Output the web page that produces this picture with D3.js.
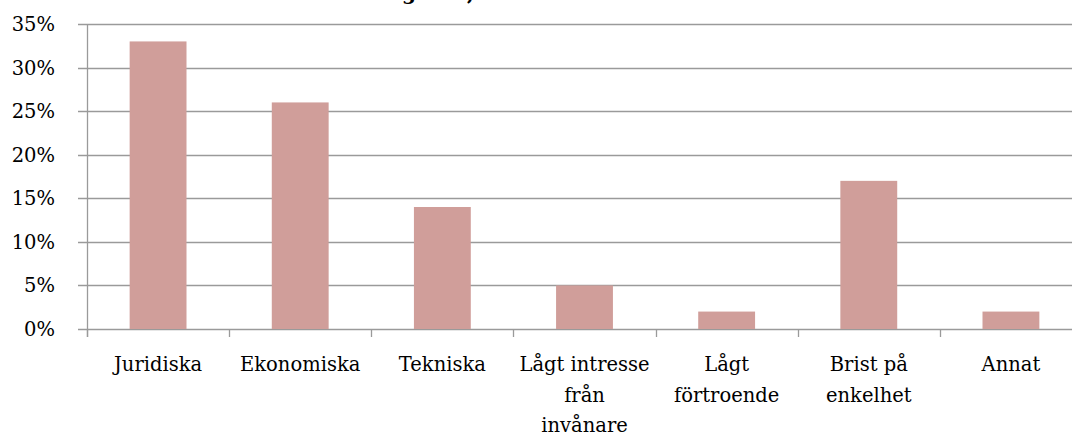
<!DOCTYPE html>
<html><head><meta charset="utf-8">
<script src="https://cdn.jsdelivr.net/npm/d3@7"></script>
<style>body{margin:0;background:#fff}svg{display:block}text{font-family:"DejaVu Serif",serif;fill:#000}</style>
</head><body>
<svg id="c" width="1072" height="436"></svg>
<script>
const categories = ["Juridiska","Ekonomiska","Tekniska","Lågt intresse från invånare","Lågt förtroende","Brist på enkelhet","Annat"];
const labelLines = [["Juridiska"],["Ekonomiska"],["Tekniska"],["Lågt intresse","från","invånare"],["Lågt","förtroende"],["Brist på","enkelhet"],["Annat"]];
const values = [0.33,0.26,0.14,0.05,0.02,0.17,0.02];
const yTicks = [0,0.05,0.10,0.15,0.20,0.25,0.30,0.35];
const titleText = "Utmaningarna, hinder";

const svg = d3.select("#c");
const x = d3.scaleBand().domain(categories).range([87,1082]).paddingInner(0.6).paddingOuter(0.3);
const xb = d3.scaleBand().domain(categories).range([87,1082]);
const y = d3.scaleLinear().domain([0,0.35]).range([329,24]);

// title (cut off at top, as in the reference)
const t = svg.append("text").attr("y",-0.5).attr("font-weight","bold").attr("font-size",20).text(titleText);
const pre = t.node().getSubStringLength(0,9);
t.attr("x",429 - pre);

// gridlines
svg.append("g").selectAll("line").data(yTicks).join("line")
  .attr("x1",78).attr("x2",1072).attr("y1",d=>Math.round(y(d))+0.5).attr("y2",d=>Math.round(y(d))+0.5)
  .attr("stroke","#9a9a9a").attr("stroke-width",1.3);

// y axis line
svg.append("line").attr("x1",87.5).attr("x2",87.5).attr("y1",y(0.35)).attr("y2",y(0)+8).attr("stroke","#9a9a9a").attr("stroke-width",1.3);

// y labels
svg.append("g").selectAll("text").data(yTicks).join("text")
  .attr("x",55).attr("y",d=>y(d)+7).attr("text-anchor","end").attr("font-size",19.5)
  .text(d=>d3.format(".0%")(d));

// x ticks
svg.append("g").selectAll("line").data(categories).join("line")
  .attr("x1",d=>Math.round(xb(d))+0.5).attr("x2",d=>Math.round(xb(d))+0.5)
  .attr("y1",y(0)).attr("y2",y(0)+8).attr("stroke","#9a9a9a").attr("stroke-width",1.3);

// bars
svg.append("g").selectAll("rect").data(values).join("rect")
  .attr("x",(d,i)=>x(categories[i])).attr("width",x.bandwidth())
  .attr("y",d=>y(d)).attr("height",d=>y(0)-y(d)).attr("fill","#d09e9a");

// x labels
const lg = svg.append("g").selectAll("text").data(labelLines).join("text")
  .attr("text-anchor","middle").attr("font-size",19.5)
  .attr("transform",(d,i)=>`translate(${xb(categories[i])+xb.bandwidth()/2},0)`);
lg.selectAll("tspan").data(d=>d).join("tspan").attr("x",0).attr("y",(d,j)=>371+j*30.5).text(d=>d);
</script>
</body></html>
